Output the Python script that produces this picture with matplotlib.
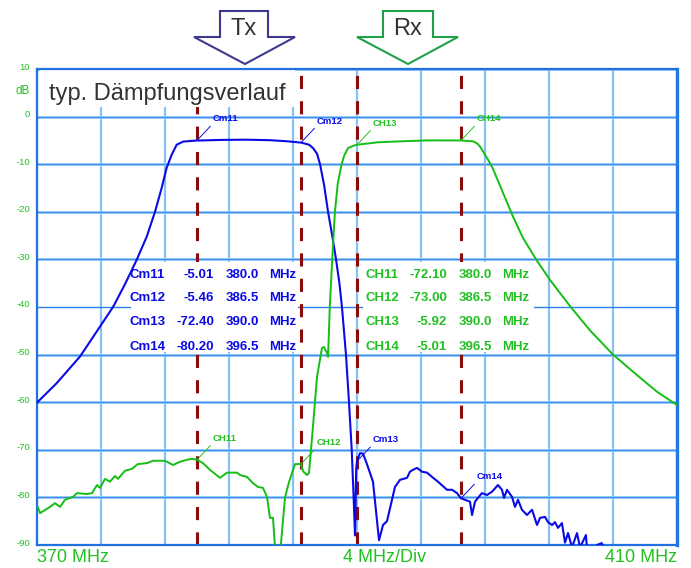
import numpy as np
import matplotlib
matplotlib.use("Agg")
import matplotlib.pyplot as plt
from matplotlib.patches import Polygon, Rectangle

plt.rcParams['font.family'] = ['Liberation Sans', 'DejaVu Sans']

# --- data ---
tx_freq = [370.0, 371.23, 372.69, 373.94, 374.77, 375.5, 376.23, 376.86, 377.375, 377.79,
           378.1, 378.42, 378.73, 379.14, 379.92, 381.5, 383.0,
           384.5, 385.5, 386.5, 387.0, 387.25, 387.5, 387.69, 387.95, 388.19, 388.45,
           388.69, 388.9, 389.06, 389.31, 389.5, 389.67, 389.79, 389.875, 389.95, 390.0,
           390.19, 390.375,
           390.6, 391.0, 391.375, 391.625, 391.875, 392.375, 392.69, 393.125, 393.31, 393.5,
           393.75, 394.06, 394.375, 394.69, 395.06, 395.625, 395.94, 396.25, 396.5, 396.75,
           397.06, 397.19, 397.375, 397.56, 397.81, 398.125, 398.44, 398.81, 399.06, 399.19,
           399.375, 399.69, 399.875, 400.06, 400.31, 400.625, 400.94, 401.25, 401.44, 401.75,
           401.94, 402.19, 402.375, 402.56, 402.81, 403.0, 403.19, 403.44, 403.75, 403.94,
           404.31, 404.375, 404.8, 405.0, 405.3, 405.6, 406.5, 408.0, 410.0]
tx_db = [-60.1, -56.0, -50.4, -44.1, -39.9, -35.2, -30.1, -25.2, -20.0, -15.0,
         -10.8, -8.0, -5.9, -5.25, -5.04, -4.9, -4.85,
         -4.95, -5.15, -5.46, -5.9, -6.6, -7.8, -10.0, -14.5, -20.0, -25.0,
         -30.0, -35.0, -40.0, -50.0, -60.0, -70.0, -80.0, -88.0, -74.0, -72.4,
         -70.7, -70.8,
         -72.8, -76.7, -89.0, -85.8, -85.0, -77.8, -76.3, -75.9, -74.6, -74.2,
         -73.8, -74.6, -74.8, -75.7, -76.7, -78.4, -78.4, -79.1, -80.2, -80.5,
         -80.9, -83.7, -80.9, -80.1, -79.1, -79.5, -78.8, -77.4, -78.4, -80.1,
         -78.4, -79.9, -82.0, -80.5, -82.6, -83.7, -82.6, -85.8, -84.3, -84.1,
         -85.2, -85.8, -85.2, -86.4, -85.4, -89.5, -87.5, -90.5, -87.5, -90.5,
         -87.9, -91.0, -92.0, -90.0, -89.6, -93.0, -94.0, -95.0, -96.0]

rx_freq = [370.0, 370.19, 370.81, 371.125, 371.44, 371.75, 372.06, 372.25, 372.5, 373.125,
           373.44, 373.75, 373.94, 374.25, 374.56, 374.875, 375.06, 375.5, 375.94, 376.3,
           376.875, 377.25, 378.0, 378.5, 378.94, 379.375, 379.69, 380.0, 380.375, 380.81,
           381.44, 381.875, 382.5, 382.69, 383.125, 383.5, 383.81, 384.125, 384.375, 384.56,
           384.75, 384.875, 385.19, 385.5, 385.75, 386.125, 386.5, 386.625, 386.875, 387.0,
           387.25, 387.5, 387.81, 387.94, 388.125, 388.19, 388.3, 388.45, 388.62, 388.8,
           389.04, 389.2, 389.44, 389.875, 390.0, 391.3, 392.69, 394.375, 396.5, 397.25,
           397.5, 397.69, 398.0, 398.25, 398.5, 398.8, 399.125, 399.75, 400.375, 401.25,
           402.06, 403.31, 404.56, 406.0, 407.5, 408.75, 410.0]
rx_db = [-81.6, -83.3, -82.0, -81.2, -82.0, -80.5, -80.1, -79.9, -79.1, -79.3,
         -79.1, -77.4, -78.0, -76.1, -76.7, -75.5, -76.1, -74.4, -74.0, -73.0,
         -72.8, -72.3, -72.3, -73.2, -72.5, -72.1, -71.9, -72.1, -72.8, -74.2,
         -75.9, -74.8, -74.8, -75.3, -75.7, -77.0, -77.8, -78.0, -79.9, -84.3,
         -84.3, -90.5, -92.0, -80.0, -76.8, -73.0, -73.0, -74.5, -75.3, -74.9,
         -65.0, -54.7, -48.6, -48.4, -49.7, -50.5, -40.0, -30.0, -20.0, -14.0,
         -10.0, -8.2, -6.6, -6.0, -5.92, -5.4, -5.2, -5.0, -5.01, -5.2,
         -5.6, -6.3, -8.0, -9.4, -11.0, -13.4, -16.0, -21.0, -25.5, -30.3,
         -34.3, -39.8, -44.9, -50.0, -54.3, -57.8, -60.6]

marker_freq = [380.0, 386.5, 390.0, 396.5]
cm_names = ["Cm11", "Cm12", "Cm13", "Cm14"]
cm_db = [-5.01, -5.46, -72.40, -80.20]
ch_names = ["CH11", "CH12", "CH13", "CH14"]
ch_db = [-72.10, -73.00, -5.92, -5.01]

db_ticks = list(range(10, -91, -10))
freq_grid = list(range(370, 411, 4))

BLUE = '#0a0ae6'
GREEN = '#14be14'
LABEL_GREEN = '#22c022'
MAROON = '#8b0a0a'

W, H = 691, 568
fig = plt.figure(figsize=(W / 100, H / 100), dpi=100)
ax = fig.add_axes([37 / W, (H - 545) / H, 640 / W, 476 / H])
ax.set_xlim(370, 410)
ax.set_ylim(-90, 10)
ax.set_xticks([])
ax.set_yticks([])

# grid
for f in freq_grid:
    ax.axvline(f, color='#86c0f6', lw=1.6, zorder=1)
for v in db_ticks:
    if v == -40:
        ax.axhline(v, color='#2a82ec', lw=1.0, zorder=1.2)
    else:
        ax.axhline(v, color='#93c8f8', lw=2.0, zorder=1.1)
        ax.axhline(v, color='#3a8ef0', lw=0.8, zorder=1.2)

for side in ['left', 'top', 'bottom']:
    ax.spines[side].set_color('#2072e2')
    ax.spines[side].set_linewidth(1.6)
ax.spines['right'].set_color('#1f78e8')
ax.spines['right'].set_linewidth(2.4)

# marker lines
for f in marker_freq:
    ax.axvline(f, color=MAROON, lw=2.2, ls=(0, (4.3, 4.0)), zorder=2)

# traces
ax.plot(tx_freq, tx_db, color=BLUE, lw=1.5, zorder=4)
ax.plot(rx_freq, rx_db, color=GREEN, lw=1.4, zorder=4)

# white boxes behind texts
ax.add_patch(Rectangle((370.19, 2.0), 386.1 - 370.19, 9.8 - 2.0, facecolor='white',
                       edgecolor='none', zorder=2.5))
ax.add_patch(Rectangle((375.9, -49.5), 386.3 - 375.9, 19.0, facecolor='white',
                       edgecolor='none', zorder=2.5))
ax.add_patch(Rectangle((390.4, -49.5), 401.06 - 390.4, 19.0, facecolor='white',
                       edgecolor='none', zorder=2.5))

ax.text(370.75, 3.5, "typ. Dämpfungsverlauf", fontsize=17, color='#333333',
        va='baseline', ha='left', zorder=6)

# marker tables
row_db = [-33.3, -38.2, -43.2, -48.3]
tk = dict(fontsize=9.5, fontweight='bold', va='center', zorder=6)
for i in range(4):
    y = row_db[i]
    ax.text(375.75, y, cm_names[i], color=BLUE, ha='left', **tk)
    ax.text(381.06, y, f"{cm_db[i]:.2f}", color=BLUE, ha='right', **tk)
    ax.text(383.875, y, f"{marker_freq[i]:.1f}", color=BLUE, ha='right', **tk)
    ax.text(384.5, y, "MHz", color=BLUE, ha='left', **tk)
    ax.text(390.56, y, ch_names[i], color=LABEL_GREEN, ha='left', **tk)
    ax.text(395.625, y, f"{ch_db[i]:.2f}", color=LABEL_GREEN, ha='right', **tk)
    ax.text(398.44, y, f"{marker_freq[i]:.1f}", color=LABEL_GREEN, ha='right', **tk)
    ax.text(399.06, y, "MHz", color=LABEL_GREEN, ha='left', **tk)

# marker tags with leader lines
for names, vals, col in [(cm_names, cm_db, BLUE), (ch_names, ch_db, LABEL_GREEN)]:
    for name, f, v in zip(names, marker_freq, vals):
        ax.annotate(name, xy=(f, v), xytext=(16, 17), textcoords='offset pixels',
                    fontsize=6.8, fontweight='bold', color=col, ha='left', va='bottom',
                    zorder=7,
                    arrowprops=dict(arrowstyle='-', color=col, lw=0.7,
                                    shrinkA=0, shrinkB=0, relpos=(0, 0)))

# y tick labels
for v in db_ticks:
    ax.annotate(str(v), xy=(0, v), xycoords=('axes fraction', 'data'),
                xytext=(-7, 2), textcoords='offset pixels', ha='right', va='center',
                fontsize=6.8, color=LABEL_GREEN, annotation_clip=False)
ax.annotate("dB", xy=(0, 5), xycoords=('axes fraction', 'data'),
            xytext=(-7, 2), textcoords='offset pixels', ha='right', va='center',
            fontsize=8.5, color=LABEL_GREEN, annotation_clip=False)

# x labels
xk = dict(xycoords=('data', 'axes fraction'), textcoords='offset pixels',
          va='center', fontsize=13, color=LABEL_GREEN, annotation_clip=False)
ax.annotate("370 MHz", xy=(370, 0), xytext=(0, -13), ha='left', **xk)
ax.annotate("4 MHz/Div", xy=(389.1, 0), xytext=(0, -13), ha='left', **xk)
ax.annotate("410 MHz", xy=(410, 0), xytext=(0, -13), ha='right', **xk)

# Tx / Rx band arrows above the plot
ov = fig.add_axes([0, 0, 1, 1], facecolor='none')
ov.set_xlim(0, W)
ov.set_ylim(H, 0)
ov.axis('off')
tx_arrow = [(220, 11), (268, 11), (268, 37), (295, 37), (245, 64), (194, 37), (220, 37)]
rx_arrow = [(383, 11), (433, 11), (433, 37), (458, 37), (408, 64), (357, 37), (383, 37)]
ov.add_patch(Polygon(tx_arrow, closed=True, facecolor='white', edgecolor='#3d3a8f', lw=1.5))
ov.add_patch(Polygon(rx_arrow, closed=True, facecolor='white', edgecolor='#1fa04a', lw=1.5))
ov.text(244, 29, "Tx", fontsize=17, color='#333333', ha='center', va='center')
ov.text(408, 29, "Rx", fontsize=17, color='#333333', ha='center', va='center')

fig.savefig("out.png", dpi=100)
